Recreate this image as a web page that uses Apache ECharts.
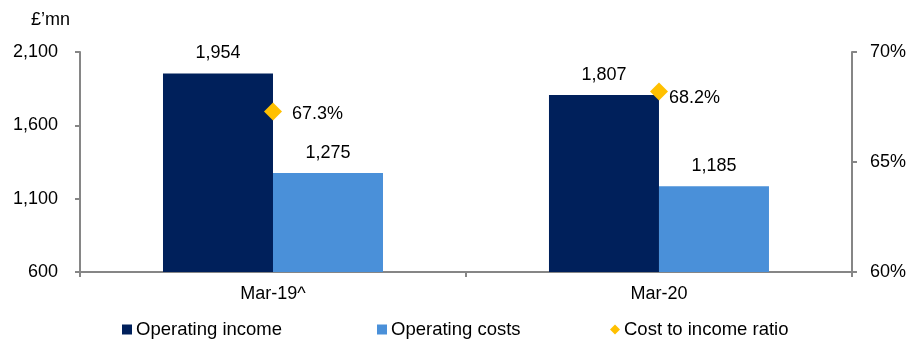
<!DOCTYPE html>
<html>
<head>
<meta charset="utf-8">
<script src="https://cdn.jsdelivr.net/npm/echarts@6/dist/echarts.min.js"></script>
<style>
html,body{margin:0;padding:0;background:#fff;}
#chart{width:909px;height:339px;}
</style>
</head>
<body>
<div id="chart"></div>
<script>
const categories = ['Mar-19^', 'Mar-20'];
const operatingIncome = [1954, 1807];
const operatingCosts = [1275, 1185];
const costIncomeRatio = [67.3, 68.2];
const leftTicks = [600, 1100, 1600, 2100];
const rightTicks = [60, 65, 70];

const FONT = '"Liberation Sans", Arial, sans-serif';
const AXIS_COLOR = '#868686';
const TEXT_COLOR = '#000000';
const ratioLabelOffsets = [[0, 3], [-9, 6]];

const chart = echarts.init(document.getElementById('chart'));
const fmt = v => Number(v).toLocaleString('en-US');

const legendText = { fontFamily: FONT, fontSize: 18.5, color: TEXT_COLOR, padding: [0, 0, 0, -1] };

const option = {
  backgroundColor: '#ffffff',
  animation: false,
  textStyle: { fontFamily: FONT, color: TEXT_COLOR },
  title: {
    text: '£\u2019mn', left: 26, top: 6,
    textStyle: { fontFamily: FONT, fontSize: 18, fontWeight: 'normal', color: TEXT_COLOR }
  },
  grid: { left: 80, right: 56, top: 52, bottom: 67, containLabel: false },
  legend: [
    { data: [{ name: 'Operating income', icon: 'rect' }], left: 122, top: 320, padding: 0, itemWidth: 10, itemHeight: 10, itemGap: 0, textStyle: legendText },
    { data: [{ name: 'Operating costs', icon: 'rect' }], left: 377, top: 320, padding: 0, itemWidth: 10, itemHeight: 10, itemGap: 0, textStyle: legendText },
    { data: [{ name: 'Cost to income ratio', icon: 'diamond' }], left: 610, top: 320, padding: 0, itemWidth: 10, itemHeight: 10, itemGap: 0, textStyle: legendText }
  ],
  xAxis: {
    type: 'category',
    data: categories,
    boundaryGap: true,
    axisLine: { lineStyle: { color: AXIS_COLOR, width: 2 } },
    axisTick: { show: true, length: 5, lineStyle: { color: AXIS_COLOR, width: 2 } },
    axisLabel: { fontFamily: FONT, fontSize: 18, color: TEXT_COLOR, margin: 13 }
  },
  yAxis: [
    {
      type: 'value', min: leftTicks[0], max: leftTicks[leftTicks.length - 1],
      interval: leftTicks[1] - leftTicks[0],
      splitLine: { show: false },
      axisLine: { show: true, lineStyle: { color: AXIS_COLOR, width: 2 } },
      axisTick: { show: true, length: 5, lineStyle: { color: AXIS_COLOR, width: 2 } },
      axisLabel: { fontFamily: FONT, fontSize: 18, color: TEXT_COLOR, margin: 22, formatter: fmt }
    },
    {
      type: 'value', min: rightTicks[0], max: rightTicks[rightTicks.length - 1],
      interval: rightTicks[1] - rightTicks[0],
      position: 'right',
      splitLine: { show: false },
      axisLine: { show: true, lineStyle: { color: AXIS_COLOR, width: 2 } },
      axisTick: { show: true, length: 5, lineStyle: { color: AXIS_COLOR, width: 2 } },
      axisLabel: { fontFamily: FONT, fontSize: 18, color: TEXT_COLOR, margin: 18, formatter: '{value}%' }
    }
  ],
  series: [
    {
      name: 'Operating income', type: 'bar', data: operatingIncome,
      barWidth: 110, barGap: '0%',
      itemStyle: { color: '#00205B' },
      label: { show: true, position: 'top', distance: 11, fontFamily: FONT, fontSize: 18, color: TEXT_COLOR, formatter: p => fmt(p.value) }
    },
    {
      name: 'Operating costs', type: 'bar', data: operatingCosts,
      barWidth: 110, barGap: '0%',
      itemStyle: { color: '#4A90D9' },
      label: { show: true, position: 'top', distance: 11, fontFamily: FONT, fontSize: 18, color: TEXT_COLOR, formatter: p => fmt(p.value) }
    },
    {
      name: 'Cost to income ratio', type: 'scatter', yAxisIndex: 1,
      symbol: 'diamond', symbolSize: 18, z: 5,
      itemStyle: { color: '#FFC000', opacity: 1 },
      data: costIncomeRatio.map((v, i) => ({
        value: v,
        label: { offset: ratioLabelOffsets[i] }
      })),
      label: { show: true, position: 'right', distance: 10, fontFamily: FONT, fontSize: 18, color: TEXT_COLOR, opacity: 1,
        formatter: p => p.value.toFixed(1) + '%' }
    }
  ]
};
chart.setOption(option);
</script>
</body>
</html>
